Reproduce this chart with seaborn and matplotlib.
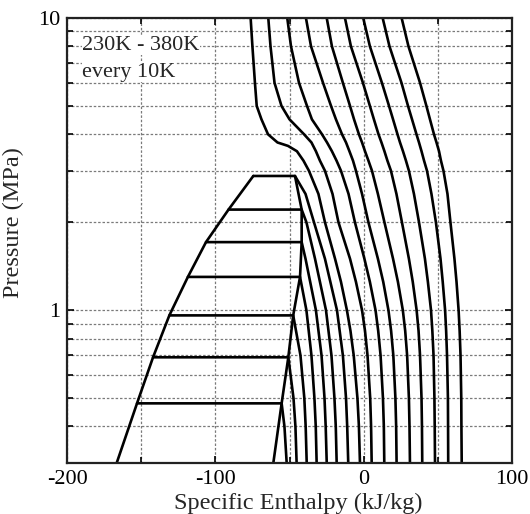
import numpy as np
import pandas as pd
import matplotlib
matplotlib.use("Agg")
import matplotlib.pyplot as plt
import seaborn as sns
from matplotlib.ticker import FixedLocator, FixedFormatter, NullFormatter

# ---------------- data ----------------
# Saturation dome: tie-line pressures (MPa) and saturated liquid / vapour enthalpies (kJ/kg)
T_SUB = [290, 280, 270, 260, 250, 240, 230]
P_SAT = [2.88, 2.21, 1.71, 1.30, 0.96, 0.69, 0.48]
H_LIQ = [-74.4, -91.1, -106.3, -118.5, -131.0, -142.0, -152.8]
H_VAP = [-46.3, -41.8, -41.8, -42.9, -47.5, -50.8, -55.3]
P_BOTTOM = 0.3
H_LIQ_BOTTOM = -166.5
H_VAP_BOTTOM = -60.9

# Vapour branches of the subcritical isotherms (below their saturation pressure)
VAP_P = {
    290: [2.5, 2.0, 1.5, 1.0, 0.7, 0.5, 0.4, 0.3],
    280: [2.0, 1.5, 1.0, 0.7, 0.5, 0.4, 0.3],
    270: [1.5, 1.0, 0.7, 0.5, 0.4, 0.3],
    260: [1.0, 0.7, 0.5, 0.4, 0.3],
    250: [0.7, 0.5, 0.4, 0.3],
    240: [0.5, 0.4, 0.3],
    230: [0.4, 0.3],
}
VAP_H = {
    290: [-39.2, -33.5, -26.1, -18.0, -14.0, -11.9, -11.1, -10.4],
    280: [-38.6, -32.8, -25.4, -21.7, -19.7, -18.8, -18.2],
    270: [-39.2, -32.2, -28.4, -26.4, -25.6, -24.9],
    260: [-38.6, -35.2, -33.2, -32.3, -31.7],
    250: [-42.6, -40.0, -39.1, -38.4],
    240: [-47.3, -46.0, -45.2],
    230: [-53.4, -51.9],
}

# Isotherms that reach the top of the chart (300 K .. 380 K)
P_GRID = [10, 8, 6, 5, 4.5, 4, 3.75, 3.5, 3.25, 3, 2.5, 2, 1.5, 1.25, 1, 0.85, 0.7, 0.5, 0.4, 0.3]
P_300 = [10, 8, 6, 5, 4.5, 4, 3.75, 3.65, 3.5, 3.25, 3, 2.5, 2, 1.5, 1.25, 1, 0.85, 0.7, 0.5, 0.4, 0.3]
H_300 = [-76.2, -75.0, -73.3, -72.1, -68.9, -64.5, -58.1, -51.0, -45.0, -40.6, -36.9, -30.5, -26.1,
         -19.3, -15.3, -11.3, -8.9, -6.7, -4.2, -3.2, -2.5]
SUP_H = {
    310: [-64.3, -62.8, -60.1, -55.4, -50.0, -40.2, -35.2, -32.2, -29.5, -26.1, -21.0, -17.0, -9.2, -5.2, -1.1, 0.9, 2.6, 4.4, 5.0, 5.4],
    320: [-51.5, -49.0, -43.6, -38.2, -34.9, -28.1, -24.7, -21.4, -18.3, -15.3, -10.2, -5.9, 0.5, 4.2, 8.0, 9.8, 11.4, 13.0, 13.6, 13.9],
    330: [-38.9, -35.5, -27.4, -22.0, -18.7, -14.6, -11.9, -9.6, -7.2, -5.2, -1.1, 3.2, 9.6, 13.2, 16.7, 18.5, 20.0, 21.4, 21.9, 22.2],
    340: [-24.9, -21.4, -14.0, -9.2, -6.5, -3.2, -1.1, 0.9, 3.2, 5.6, 9.6, 14.0, 19.8, 23.1, 26.4, 28.0, 29.3, 30.5, 30.9, 31.2],
    350: [-12.6, -8.6, -0.5, 4.2, 6.9, 10.0, 12.0, 14.0, 16.0, 18.4, 22.1, 25.8, 30.5, 33.1, 35.7, 37.0, 38.0, 39.0, 39.3, 39.5],
    360: [-0.3, 4.2, 12.3, 17.1, 19.8, 22.8, 24.5, 26.5, 28.5, 30.5, 33.9, 37.3, 41.3, 43.3, 45.4, 46.3, 47.1, 47.7, 47.9, 48.1],
    370: [12.8, 17.4, 25.5, 29.9, 32.6, 35.6, 37.3, 39.0, 40.7, 42.7, 45.7, 48.7, 51.8, 53.3, 54.9, 55.6, 56.2, 56.8, 56.9, 57.0],
    380: [25.6, 30.2, 38.0, 42.3, 44.7, 47.4, 49.1, 50.8, 52.1, 53.8, 56.5, 58.5, 61.2, 62.6, 64.0, 64.7, 65.3, 65.8, 65.9, 66.1],
}

X_TICKS = [-200, -100, 0, 100]
X_MINOR = [-150, -50, 50]
Y_TICKS = [1, 10]
Y_TICK_LABELS = ["1", "10"]
Y_MINOR = [0.4, 0.5, 0.6, 0.7, 0.8, 0.9, 2, 3, 4, 5, 6, 7, 8, 9]
X_LABEL = "Specific Enthalpy (kJ/kg)"
Y_LABEL = "Pressure (MPa)"
NOTE_1 = "230K - 380K"
NOTE_2 = "every 10K"

# ---------------- build long table ----------------
rows = []
for p, h in zip(P_SAT + [P_BOTTOM], H_LIQ + [H_LIQ_BOTTOM]):
    rows.append(("sat_liq", h, p))
for p, h in zip(P_SAT + [P_BOTTOM], H_VAP + [H_VAP_BOTTOM]):
    rows.append(("sat_vap", h, p))
for t, p, hl, hv in zip(T_SUB, P_SAT, H_LIQ, H_VAP):
    name = f"T{t}"
    rows.append((name, hl, p))
    rows.append((name, hv, p))
    for pp, hh in zip(VAP_P[t], VAP_H[t]):
        rows.append((name, hh, pp))
for pp, hh in zip(P_300, H_300):
    rows.append(("T300", hh, pp))
for t, hs in SUP_H.items():
    for pp, hh in zip(P_GRID, hs):
        rows.append((f"T{t}", hh, pp))
df = pd.DataFrame(rows, columns=["curve", "h", "P"])

# ---------------- plot ----------------
sns.set_theme(style="white")
plt.rcParams["font.family"] = ["Liberation Serif", "DejaVu Serif"]
plt.rcParams["axes.unicode_minus"] = False

fig = plt.figure(figsize=(5.30, 5.14), dpi=100)
ax = fig.add_axes([67 / 530, 1 - 463 / 514, 445 / 530, 445 / 514])

sns.lineplot(data=df, x="h", y="P", units="curve", estimator=None, sort=False,
             color="black", linewidth=1.9, ax=ax, legend=False)

ax.set_yscale("log")
ax.set_xlim(-200, 100)
ax.set_ylim(0.3, 10)

ax.xaxis.set_major_locator(FixedLocator(X_TICKS))
ax.xaxis.set_minor_locator(FixedLocator(X_MINOR))
ax.yaxis.set_major_locator(FixedLocator(Y_TICKS))
ax.yaxis.set_major_formatter(FixedFormatter(Y_TICK_LABELS))
ax.yaxis.set_minor_locator(FixedLocator(Y_MINOR))
ax.yaxis.set_minor_formatter(NullFormatter())

ax.grid(which="both", color="#7a7a7a", linestyle=(0, (2.0, 1.5)), linewidth=0.9)
ax.set_axisbelow(True)

ax.tick_params(which="both", direction="in", top=True, right=True, left=True, bottom=True,
               colors="black", labelsize=16, width=1.2)
ax.tick_params(which="major", length=5, pad=5)
ax.tick_params(which="minor", length=4)
for s in ax.spines.values():
    s.set_color("#222222")
    s.set_linewidth(1.6)

ax.set_xlabel(X_LABEL, fontsize=17.5)
ax.set_ylabel(Y_LABEL, fontsize=17.5)
ax.xaxis.set_label_coords(0.52, -0.066)
ax.yaxis.set_label_coords(-0.097, 0.54)

for txt, yy in [(NOTE_1, 1 - 27 / 445), (NOTE_2, 1 - 54 / 445)]:
    ax.text(0.034, yy, txt, transform=ax.transAxes, ha="left", va="center", fontsize=16,
            bbox=dict(facecolor="white", edgecolor="none", pad=0.3))

fig.savefig("out.png", dpi=100)
